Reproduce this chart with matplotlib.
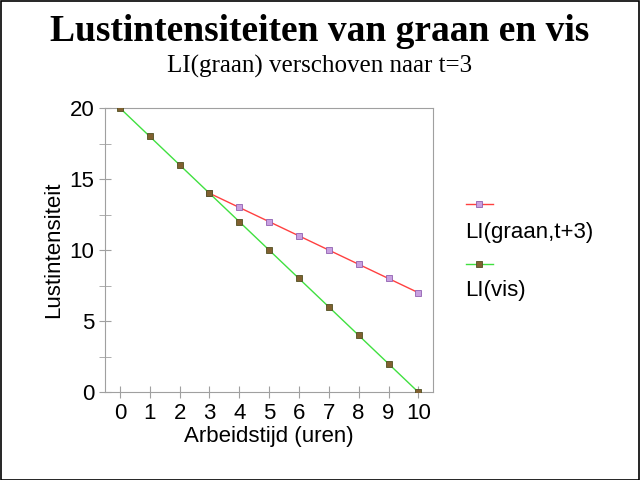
import matplotlib
matplotlib.use("Agg")
import matplotlib.pyplot as plt
from matplotlib.lines import Line2D
from matplotlib.patches import Rectangle

t_vis = [0, 1, 2, 3, 4, 5, 6, 7, 8, 9, 10]
li_vis = [20, 18, 16, 14, 12, 10, 8, 6, 4, 2, 0]
t_graan = [3, 4, 5, 6, 7, 8, 9, 10]
li_graan = [14, 13, 12, 11, 10, 9, 8, 7]
labels = ["LI(graan,t+3)", "LI(vis)"]

plt.rcParams["font.family"] = ["Liberation Sans", "DejaVu Sans"]

fig = plt.figure(figsize=(6.4, 4.8), dpi=100)
fig.patches.append(Rectangle((0.001, 0.001), 0.997, 0.997, transform=fig.transFigure,
                             fill=False, edgecolor="black", linewidth=1.2))
ax = fig.add_axes([0.164, 0.183, 0.513, 0.592])
ax.plot(t_graan, li_graan, color="#ff4040", lw=1, marker="s", ms=4,
        mfc="#c8a0e0", mec="#9060b0", mew=0.6, zorder=3)
ax.plot(t_vis, li_vis, color="#40e040", lw=1, marker="s", ms=4,
        mfc="#806030", mec="#505020", mew=0.6, zorder=3)
ax.set_xlim(-0.5, 10.5)
ax.set_ylim(0, 20)
ax.set_xticks(range(0, 11))
ax.set_yticks([0, 5, 10, 15, 20])
ax.set_yticks([2.5, 7.5, 12.5, 17.5], minor=True)
for s in ax.spines.values():
    s.set_color("#a0a0a0")
ax.tick_params(axis="both", which="both", direction="inout", color="#a0a0a0",
               length=8, labelsize=16)
ax.set_xlabel("Arbeidstijd (uren)", fontsize=16, labelpad=2)
ax.set_ylabel("Lustintensiteit", fontsize=16)

fig.text(0.5, 0.935, "Lustintensiteiten van graan en vis", ha="center", va="center",
         fontsize=27, fontweight="bold", family="Liberation Serif")
fig.text(0.5, 0.862, "LI(graan) verschoven naar t=3", ha="center", va="center",
         fontsize=18, family="Liberation Serif")

# legend
for (y_line, y_text, col, mfc, mec, lab) in [
        (0.575, 0.515, "#ff4040", "#c8a0e0", "#9060b0", labels[0]),
        (0.45, 0.395, "#40e040", "#806030", "#505020", labels[1])]:
    fig.add_artist(Line2D([0.728, 0.77], [y_line, y_line], transform=fig.transFigure,
                          color=col, lw=1))
    fig.add_artist(Line2D([0.749], [y_line], transform=fig.transFigure, marker="s",
                          ms=4, mfc=mfc, mec=mec, mew=0.6, lw=0))
    fig.text(0.727, y_text, lab, fontsize=16, va="center", ha="left")

fig.savefig("out.png", dpi=100)
